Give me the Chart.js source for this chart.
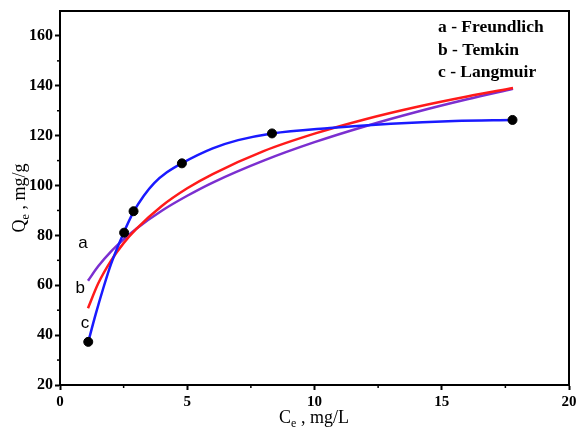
<!DOCTYPE html>
<html>
<head>
<meta charset="utf-8">
<script src="https://cdn.jsdelivr.net/npm/chart.js@4.4.1/dist/chart.umd.min.js"></script>
<style>
html, body { margin: 0; padding: 0; background: #fff; }
</style>
</head>
<body>
<canvas id="isotherm" width="577" height="430"></canvas>
<script>
// experimental points (Ce in mg/L, Qe in mg/g)
const expCe = [1.11, 2.52, 2.89, 4.79, 8.33, 17.78];
const expQe = [37.3, 81.1, 89.7, 108.9, 120.9, 126.3];

// fitted curves
const freundlichCe = [1.1, 1.5, 2, 2.5, 3, 4, 5, 6, 8, 10, 12, 14, 16, 17.8];
const freundlichQe = [61.8, 67.6, 73.5, 78.4, 82.7, 89.9, 95.9, 101.2, 110.0, 117.4, 123.8, 129.5, 134.6, 138.8];

const temkinCe = [1.1, 1.5, 2, 2.5, 3, 4, 5, 6, 8, 10, 12, 14, 16, 17.8];
const temkinQe = [50.8, 60.7, 69.8, 76.9, 82.6, 91.8, 98.9, 104.6, 113.8, 120.8, 126.6, 131.5, 135.7, 139.1];

const langmuirCe = [1.11, 1.4, 1.7, 2.0, 2.5, 2.9, 3.3, 3.7, 4.2, 4.8, 6.0, 7.0, 8.33, 10.6, 13.0, 15.5, 17.78];
const langmuirQe = [37.3, 48.3, 58.8, 68.4, 81.0, 89.6, 96.0, 101.0, 105.3, 109.0, 114.9, 118.2, 120.9, 123.1, 124.8, 125.9, 126.3];

const xTicks = [0, 5, 10, 15, 20];
const yTicks = [20, 40, 60, 80, 100, 120, 140, 160];
const xMinorTicks = [2.5, 7.5, 12.5, 17.5];
const yMinorTicks = [30, 50, 70, 90, 110, 130, 150];

const legendLines = ["a - Freundlich", "b - Temkin", "c - Langmuir"];
const curveTags = ["a", "b", "c"];
const curveTagCe = [0.9, 0.79, 0.98];
const curveTagQe = [76.8, 58.8, 44.8];

const toPoints = (xs, ys) => xs.map((x, i) => ({ x: x, y: ys[i] }));

const serif = "'Liberation Serif', 'Times New Roman', serif";

// frame, minor ticks, axis titles with subscripts, and the text labels
const decorations = {
    id: "decorations",
    afterDraw(chart) {
        const ctx = chart.ctx;
        const area = chart.chartArea;
        const xs = chart.scales.x;
        const ys = chart.scales.y;

        ctx.save();
        ctx.strokeStyle = "#000";
        ctx.lineWidth = 2;
        ctx.strokeRect(area.left, area.top, area.right - area.left, area.bottom - area.top);

        ctx.lineWidth = 1.5;
        xMinorTicks.forEach((v) => {
            const px = xs.getPixelForValue(v);
            ctx.beginPath();
            ctx.moveTo(px, area.bottom);
            ctx.lineTo(px, area.bottom + 3);
            ctx.stroke();
        });
        yMinorTicks.forEach((v) => {
            const py = ys.getPixelForValue(v);
            ctx.beginPath();
            ctx.moveTo(area.left, py);
            ctx.lineTo(area.left - 3, py);
            ctx.stroke();
        });

        ctx.fillStyle = "#000";
        ctx.textBaseline = "alphabetic";
        ctx.textAlign = "left";

        const titleFont = "18px " + serif;
        const subFont = "12px " + serif;
        const drawTitle = (main, rest) => {
            ctx.font = titleFont;
            const w1 = ctx.measureText(main).width;
            ctx.font = subFont;
            const w2 = ctx.measureText("e").width;
            ctx.font = titleFont;
            const w3 = ctx.measureText(rest).width;
            let x = -(w1 + w2 + w3) / 2;
            ctx.fillText(main, x, 0);
            x += w1;
            ctx.font = subFont;
            ctx.fillText("e", x, 4);
            x += w2;
            ctx.font = titleFont;
            ctx.fillText(rest, x, 0);
        };

        // x axis title: Ce , mg/L
        ctx.save();
        ctx.translate(314, 423);
        drawTitle("C", " , mg/L");
        ctx.restore();

        // y axis title: Qe , mg/g
        ctx.save();
        ctx.translate(25, 198);
        ctx.rotate(-Math.PI / 2);
        drawTitle("Q", " , mg/g");
        ctx.restore();

        // curve tags
        ctx.font = "17px 'Liberation Sans', Arial, sans-serif";
        ctx.textAlign = "center";
        ctx.textBaseline = "middle";
        curveTags.forEach((t, i) => {
            ctx.fillText(t, xs.getPixelForValue(curveTagCe[i]), ys.getPixelForValue(curveTagQe[i]));
        });

        // legend text
        ctx.font = "bold 17.5px " + serif;
        ctx.textAlign = "left";
        ctx.textBaseline = "alphabetic";
        legendLines.forEach((t, i) => {
            ctx.fillText(t, 438, 32.3 + i * 22.2);
        });
        ctx.restore();
    }
};

new Chart(document.getElementById("isotherm"), {
    type: "scatter",
    data: {
        datasets: [
            {
                label: "experimental",
                data: toPoints(expCe, expQe),
                backgroundColor: "#000",
                borderColor: "#000",
                pointRadius: 4.5,
                order: 0
            },
            {
                label: "Langmuir",
                data: toPoints(langmuirCe, langmuirQe),
                showLine: true,
                borderColor: "#1a1aff",
                borderWidth: 2.5,
                pointRadius: 0,
                cubicInterpolationMode: "monotone",
                order: 1
            },
            {
                label: "Temkin",
                data: toPoints(temkinCe, temkinQe),
                showLine: true,
                borderColor: "#ff1a1a",
                borderWidth: 2.5,
                pointRadius: 0,
                cubicInterpolationMode: "monotone",
                order: 2
            },
            {
                label: "Freundlich",
                data: toPoints(freundlichCe, freundlichQe),
                showLine: true,
                borderColor: "#7b2fd0",
                borderWidth: 2.5,
                pointRadius: 0,
                cubicInterpolationMode: "monotone",
                order: 3
            }
        ]
    },
    options: {
        responsive: false,
        animation: false,
        layout: { padding: { left: 0, right: 8, top: 11, bottom: 0 } },
        plugins: { legend: { display: false }, tooltip: { enabled: false } },
        scales: {
            x: {
                type: "linear",
                min: 0,
                max: 20,
                afterBuildTicks: (s) => { s.ticks = xTicks.map((v) => ({ value: v })); },
                afterFit: (s) => { s.height = 45; s.paddingLeft = 0; s.paddingRight = 0; },
                ticks: { font: { family: serif, size: 15, weight: "bold" }, color: "#000", padding: 3, maxRotation: 0 },
                grid: { drawOnChartArea: false, tickLength: 5, tickColor: "#000", tickWidth: 2 },
                border: { color: "#000", width: 2 }
            },
            y: {
                type: "linear",
                min: 20,
                max: 170,
                afterBuildTicks: (s) => { s.ticks = yTicks.map((v) => ({ value: v })); },
                afterFit: (s) => { s.width = 60; s.paddingTop = 0; s.paddingBottom = 0; },
                ticks: { font: { family: serif, size: 16, weight: "bold" }, color: "#000", padding: 2 },
                grid: { drawOnChartArea: false, tickLength: 5, tickColor: "#000", tickWidth: 2 },
                border: { color: "#000", width: 2 }
            }
        }
    },
    plugins: [decorations]
});
</script>
</body>
</html>
